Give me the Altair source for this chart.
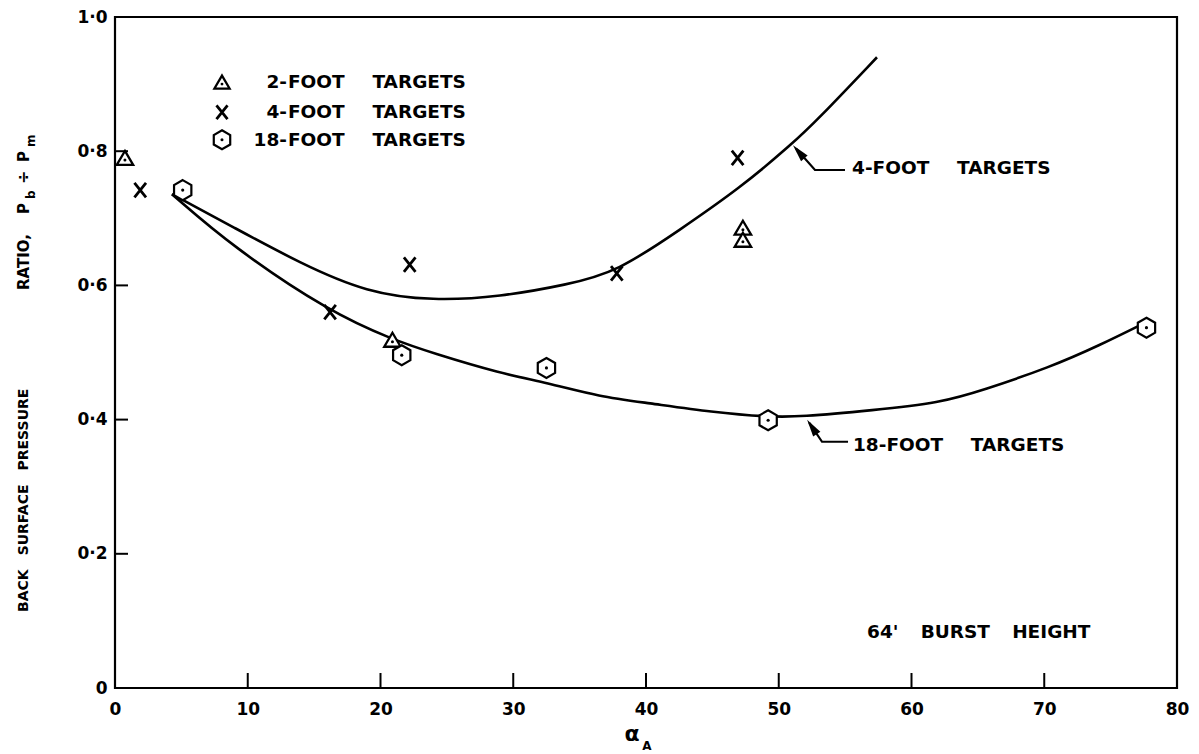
import altair as alt
import pandas as pd

# ---------------- data ----------------
tri_x = [0.75, 20.9, 47.3, 47.3]
tri_y = [0.790, 0.519, 0.686, 0.668]

x4_x = [1.9, 16.2, 22.2, 37.8, 46.9]
x4_y = [0.742, 0.560, 0.631, 0.618, 0.790]

hex_x = [5.1, 21.6, 32.5, 49.2, 77.7]
hex_y = [0.742, 0.496, 0.477, 0.399, 0.537]

curve4_x = [4.29, 8.89, 13.94, 18.98, 23.95, 29.0, 34.05, 37.82, 42.56, 47.08, 51.07, 52.88, 57.4]
curve4_y = [0.736, 0.687, 0.633, 0.589, 0.577, 0.583, 0.601, 0.620, 0.683, 0.745, 0.812, 0.846, 0.940]

curve18_x = [4.29, 8.89, 16.2, 20.94, 23.95, 29.0, 32.54, 36.53, 40.08, 45.05, 49.19, 51.6,
             57.1, 62.15, 65.39, 70.43, 74.2, 77.66]
curve18_y = [0.736, 0.657, 0.560, 0.519, 0.499, 0.469, 0.455, 0.434, 0.425, 0.411, 0.404, 0.404,
             0.414, 0.425, 0.444, 0.478, 0.511, 0.545]

x_ticks = [0, 10, 20, 30, 40, 50, 60, 70, 80]
y_ticks = [0, 0.2, 0.4, 0.6, 0.8, 1.0]

legend_sizes = ["2-", "4-", "18-"]
legend_rest = "FOOT\u2003\u2002TARGETS"

# ---------------- layout / style ----------------
W, H = 1062, 671
PAD_L, PAD_T = 115, 17
FONT = "DejaVu Sans"

xs = alt.Scale(domain=[0, 80], nice=False, zero=False)
ys = alt.Scale(domain=[0, 1], nice=False, zero=False)

AXX = alt.Axis(values=x_ticks, tickSize=0, domain=False, grid=False, title=None,
               labelFont=FONT, labelFontSize=17, labelFontWeight="bold", labelColor="black",
               labelPadding=13, labelFlush=False, labelOverlap=False)
AXY = alt.Axis(values=y_ticks, tickSize=0, domain=False, grid=False, title=None,
               labelFont=FONT, labelFontSize=17, labelFontWeight="bold", labelColor="black",
               labelPadding=8, labelFlush=False, labelOverlap=False,
               labelExpr="datum.value == 0 ? '0' : replace(format(datum.value, '.1f'), '.', '·')")

TRI = "M0,-0.85L1,0.85L-1,0.85Z"
XSH = "M-0.8,-1L0.8,1M-0.8,1L0.8,-1"
HEX = "M0,-1L0.866,-0.5L0.866,0.5L0,1L-0.866,0.5L-0.866,-0.5Z"
ARROW = "M0,-1L0.5,1L-0.5,1Z"


def X(field="x"):
    return alt.X(f"{field}:Q", scale=xs, axis=AXX)


def Y(field="y"):
    return alt.Y(f"{field}:Q", scale=ys, axis=AXY)


curves = pd.DataFrame(
    {"x": curve4_x + curve18_x,
     "y": curve4_y + curve18_y,
     "c": ["4"] * len(curve4_x) + ["18"] * len(curve18_x)}
)

curve_lines = alt.Chart(curves).mark_line(
    color="black", strokeWidth=2.6, interpolate="basis"
).encode(x=X(), y=Y(), detail="c:N")

# inward ticks
xt = alt.Chart(pd.DataFrame({"v": x_ticks[1:-1]})).mark_rule(color="black", strokeWidth=2).encode(
    x=X("v"), y=alt.value(H), y2=alt.value(H - 15))
yt = alt.Chart(pd.DataFrame({"v": y_ticks[1:-1]})).mark_rule(color="black", strokeWidth=2).encode(
    y=Y("v"), x=alt.value(0), x2=alt.value(13))

# markers
tri_df = pd.DataFrame({"x": tri_x, "y": tri_y})
x4_df = pd.DataFrame({"x": x4_x, "y": x4_y})
hex_df = pd.DataFrame({"x": hex_x, "y": hex_y})

PT = dict(opacity=1)
tri = alt.Chart(tri_df).mark_point(shape=TRI, size=270, filled=False, stroke="black",
                                   strokeWidth=2.3, fill="white", fillOpacity=1, **PT).encode(x=X(), y=Y())
tri_dot = alt.Chart(tri_df).mark_point(shape="circle", size=9, filled=True, color="black",
                                       yOffset=2, **PT).encode(x=X(), y=Y())
xs_m = alt.Chart(x4_df).mark_point(shape=XSH, size=210, stroke="black", strokeWidth=2.8, **PT).encode(x=X(), y=Y())
hexm = alt.Chart(hex_df).mark_point(shape=HEX, size=400, filled=False, stroke="black",
                                    strokeWidth=2.2, fill="white", fillOpacity=1, **PT).encode(x=X(), y=Y())
hex_dot = alt.Chart(hex_df).mark_point(shape="circle", size=10, filled=True, color="black", **PT).encode(x=X(), y=Y())

# legend (in data coordinates)
leg_sym_x = 8.06
leg_y = [0.903, 0.858, 0.817]
leg_num_x = 12.96
leg_rest_x = 13.03
leg_tri = pd.DataFrame({"x": [leg_sym_x], "y": [leg_y[0]]})
leg_x = pd.DataFrame({"x": [leg_sym_x], "y": [leg_y[1]]})
leg_hex = pd.DataFrame({"x": [leg_sym_x], "y": [leg_y[2]]})
leg_num = pd.DataFrame({"x": [leg_num_x] * 3, "y": leg_y, "t": legend_sizes})
leg_rest = pd.DataFrame({"x": [leg_rest_x] * 3, "y": leg_y, "t": [legend_rest] * 3})

TXT = dict(baseline="middle", font=FONT, fontSize=18.5, fontWeight="bold", color="black")
lg = [
    alt.Chart(leg_tri).mark_point(shape=TRI, size=230, stroke="black", strokeWidth=2.3,
                                  fill="white", fillOpacity=1, **PT).encode(x=X(), y=Y()),
    alt.Chart(leg_tri).mark_point(shape="circle", size=8, filled=True, color="black", yOffset=2, **PT).encode(x=X(), y=Y()),
    alt.Chart(leg_x).mark_point(shape=XSH, size=190, stroke="black", strokeWidth=2.8, **PT).encode(x=X(), y=Y()),
    alt.Chart(leg_hex).mark_point(shape=HEX, size=360, stroke="black", strokeWidth=2.2,
                                  fill="white", fillOpacity=1, **PT).encode(x=X(), y=Y()),
    alt.Chart(leg_hex).mark_point(shape="circle", size=9, filled=True, color="black", **PT).encode(x=X(), y=Y()),
    alt.Chart(leg_num).mark_text(align="right", **TXT).encode(x=X(), y=Y(), text="t:N"),
    alt.Chart(leg_rest).mark_text(align="left", **TXT).encode(x=X(), y=Y(), text="t:N"),
]

# curve labels with leader arrows
leaders = pd.DataFrame({
    "x": [51.3, 52.73, 54.99, 52.3, 53.26, 55.22],
    "y": [0.804, 0.772, 0.772, 0.395, 0.367, 0.367],
    "g": ["a", "a", "a", "b", "b", "b"],
    "o": [0, 1, 2, 0, 1, 2],
})
lead = alt.Chart(leaders).mark_line(color="black", strokeWidth=2.2).encode(
    x=X(), y=Y(), detail="g:N", order="o:Q")
ah1 = alt.Chart(pd.DataFrame({"x": [51.5], "y": [0.799]})).mark_point(
    shape=ARROW, size=300, filled=True, color="black", angle=319, **PT).encode(x=X(), y=Y())
ah2 = alt.Chart(pd.DataFrame({"x": [52.5], "y": [0.389]})).mark_point(
    shape=ARROW, size=300, filled=True, color="black", angle=326, **PT).encode(x=X(), y=Y())

notes = pd.DataFrame({
    "x": [55.52, 55.59, 56.65],
    "y": [0.775, 0.362, 0.083],
    "t": ["4-FOOT\u2003\u2002TARGETS", "18-FOOT\u2003\u2002TARGETS", "64'\u2003\u2009BURST\u2003\u2009HEIGHT"],
})
note_txt = alt.Chart(notes).mark_text(align="left", **TXT).encode(x=X(), y=Y(), text="t:N")

# axis titles (pixel offsets relative to the plot area)
one = pd.DataFrame({"k": [0]})


def ptext(txt, px, py, size, angle=0, align="left"):
    kw = dict(align=align, baseline="middle", font=FONT, fontSize=size, fontWeight="bold",
              color="black", text=txt)
    if angle:
        kw["angle"] = angle
    return alt.Chart(one).mark_text(**kw).encode(x=alt.value(px - PAD_L), y=alt.value(py - PAD_T))


titles = [
    ptext("α", 632, 734, 22, align="center"),
    ptext("A", 647, 746, 12, align="center"),
    ptext("BACK\u2003SURFACE\u2003PRESSURE", 24, 612, 14, angle=270),
    ptext("RATIO,", 24, 290, 15, angle=270),
    ptext("P", 24, 214, 15, angle=270),
    ptext("b", 31, 199, 12, angle=270),
    ptext("÷", 24, 184, 16, angle=270),
    ptext("P", 24, 162, 15, angle=270),
    ptext("m", 31, 147, 12, angle=270),
]

chart = alt.layer(
    curve_lines, xt, yt, lead, ah1, ah2, tri, tri_dot, xs_m, hexm, hex_dot, *lg, note_txt, *titles
).properties(
    width=W, height=H,
    padding={"left": PAD_L, "top": PAD_T, "right": 1199 - PAD_L - W, "bottom": 754 - PAD_T - H},
    autosize=alt.AutoSizeParams(type="none"),
    background="white",
).configure_view(stroke="black", strokeWidth=2.2)

chart.save("out.html", embed_options={"renderer": "svg", "actions": False})
